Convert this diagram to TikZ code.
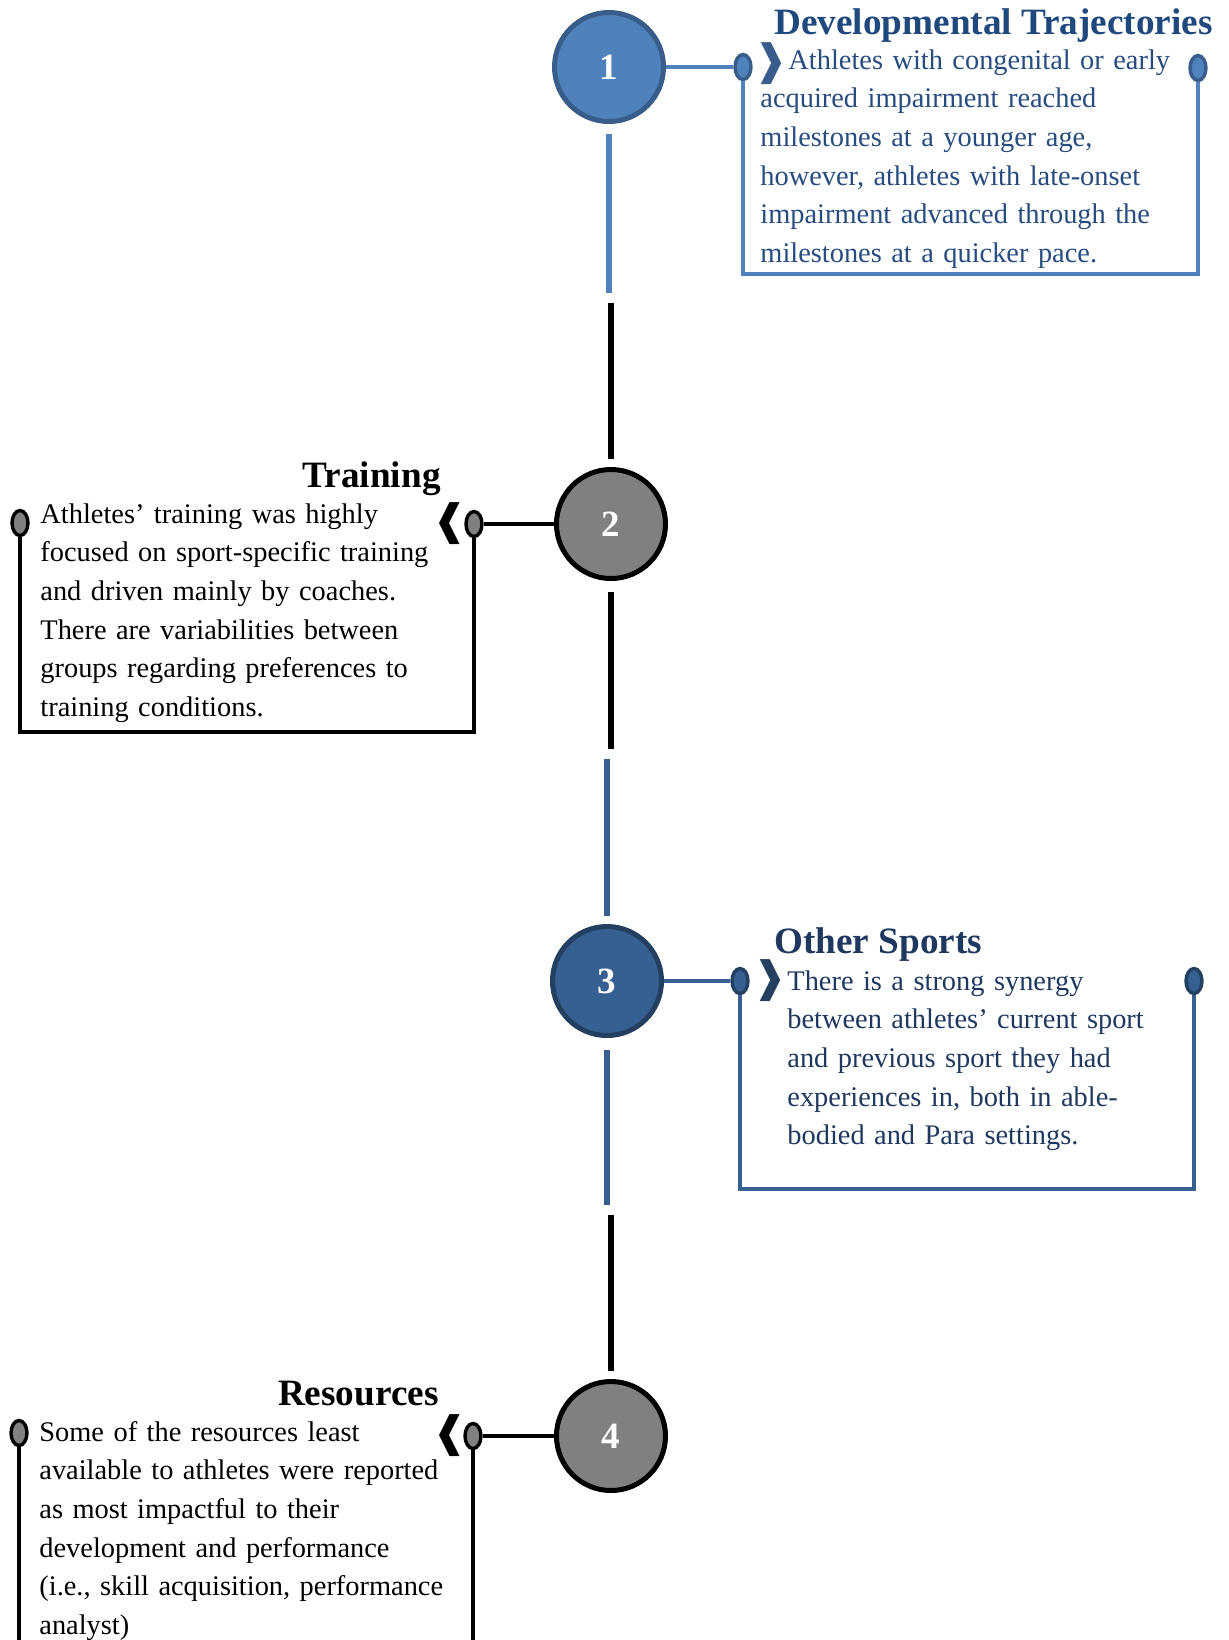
\documentclass[tikz,border=0pt]{standalone}
\usepackage{fontspec}
\setmainfont{Liberation Serif}
\newfontfamily\dingfont{DejaVu Sans}
\usetikzlibrary{shapes.geometric}
\definecolor{tlBlue}{RGB}{79,129,189}
\definecolor{tlBlueD}{RGB}{56,93,138}
\definecolor{tlNavy}{RGB}{54,96,146}
\definecolor{tlNavyD}{RGB}{36,64,97}
\definecolor{tlGray}{RGB}{128,128,128}
\definecolor{txtBlue}{RGB}{38,76,128}
\definecolor{txtBlueT}{RGB}{31,73,125}
\definecolor{txtNavy}{RGB}{31,56,96}
\begin{document}
\begin{tikzpicture}[x=0.5pt,y=-0.5pt,
  stage/.style={circle,draw,line width=2.5pt,minimum size=54.5pt,inner sep=0pt,
    text=white,font=\bfseries\fontsize{18.5}{22}\selectfont},
  pin/.style={ellipse,draw,line width=1.7pt,minimum width=8pt,minimum height=12.5pt,inner sep=0pt},
  wire/.style={line width=2.4pt},
  seg/.style={line width=2.8pt},
  head/.style={inner sep=0pt,font=\bfseries\fontsize{18.6}{22}\selectfont},
  body/.style={anchor=base west,inner sep=0pt,text width=240pt,align=left,
    font=\fontsize{14.2}{19.35}\selectfont},
  chev/.style={inner sep=0pt,font=\dingfont\fontsize{21}{21}\selectfont}]
\useasboundingbox (0,0) rectangle (1228,1640);
% stages on the time line
\node[stage,fill=tlBlue,draw=tlBlueD] (c1) at (609,67) {1};
\node[stage,fill=tlGray] (c2) at (611,524) {2};
\node[stage,fill=tlNavy,draw=tlNavyD] (c3) at (607,981) {3};
\node[stage,fill=tlGray] (c4) at (611,1436) {4};
% pins
\node[pin,fill=tlBlue,draw=tlBlueD] (p1a) at (743,67) {};
\node[pin,fill=tlBlue,draw=tlBlueD] (p1b) at (1198,68) {};
\node[pin,fill=tlGray] (p2a) at (474,524) {};
\node[pin,fill=tlGray] (p2b) at (20,523) {};
\node[pin,fill=tlNavy,draw=tlNavyD] (p3a) at (740,981) {};
\node[pin,fill=tlNavy,draw=tlNavyD] (p3b) at (1194,981) {};
\node[pin,fill=tlGray] (p4a) at (473,1436) {};
\node[pin,fill=tlGray] (p4b) at (19,1433) {};
% gaps in the time line
\coordinate (m12) at (610,298);
\coordinate (m23) at (610,754);
\coordinate (m34) at (609,1210);
\draw[seg,tlBlue,shorten <=5pt,shorten >=2.5pt] (c1.south) -- (c1.south |- m12);
\draw[seg,shorten <=2.5pt,shorten >=4pt] (m12 -| c2.north) -- (c2.north);
\draw[seg,shorten <=5.5pt,shorten >=2.5pt] (c2.south) -- (c2.south |- m23);
\draw[seg,tlNavy,shorten <=2.5pt,shorten >=4pt] (m23 -| c3.north) -- (c3.north);
\draw[seg,tlNavy,shorten <=6pt,shorten >=2.5pt] (c3.south) -- (c3.south |- m34);
\draw[seg,shorten <=2.5pt,shorten >=4pt] (m34 -| c4.north) -- (c4.north);
% callouts
\coordinate (b1) at (970,274);
\coordinate (b2) at (250,732);
\coordinate (b3) at (967,1189);
\coordinate (e4) at (250,1660);
\draw[wire,tlBlue] (c1.east) -- (p1a.west);
\draw[wire,tlBlue] (p1a.south) |- (b1) -| (p1b.south);
\draw[wire] (c2.west) -- (p2a.east);
\draw[wire] (p2a.south) |- (b2) -| (p2b.south);
\draw[wire,tlNavy] (c3.east) -- (p3a.west);
\draw[wire,tlNavy] (p3a.south) |- (b3) -| (p3b.south);
\draw[wire] (c4.west) -- (p4a.east);
\draw[wire] (p4a.south) -- (p4a.south |- e4);
\draw[wire] (p4b.south) -- (p4b.south |- e4);
% texts
\node[head,anchor=base west,text=txtBlueT] (t1) at (774,34) {Developmental Trajectories};
\node[chev,text=tlBlueD] (k1) at (771,64) {❱};
\node[body,text=txtBlue] (d1) at (760,69) {\hspace*{14pt}Athletes with congenital or early\\
  acquired impairment reached\\
  milestones at a younger age,\\
  however, athletes with late-onset\\
  impairment advanced through the\\
  milestones at a quicker pace.};
\node[head,anchor=base east] (t2) at (441,487) {Training};
\node[chev] (k2) at (450,524) {❰};
\node[body] (d2) at (40,523) {Athletes’ training was highly\\
  focused on sport-specific training\\
  and driven mainly by coaches.\\
  There are variabilities between\\
  groups regarding preferences to\\
  training conditions.};
\node[head,anchor=base west,text=txtNavy] (t3) at (774,953) {Other Sports};
\node[chev,text=tlNavyD] (k3) at (770,981) {❱};
\node[body,text=txtNavy] (d3) at (787,990) {There is a strong synergy\\
  between athletes’ current sport\\
  and previous sport they had\\
  experiences in, both in able-\\
  bodied and Para settings.};
\node[head,anchor=base east] (t4) at (439,1405) {Resources};
\node[chev] (k4) at (450,1436) {❰};
\node[body] (d4) at (39,1441) {Some of the resources least\\
  available to athletes were reported\\
  as most impactful to their\\
  development and performance\\
  (i.e., skill acquisition, performance\\
  analyst)};
\end{tikzpicture}
\end{document}
